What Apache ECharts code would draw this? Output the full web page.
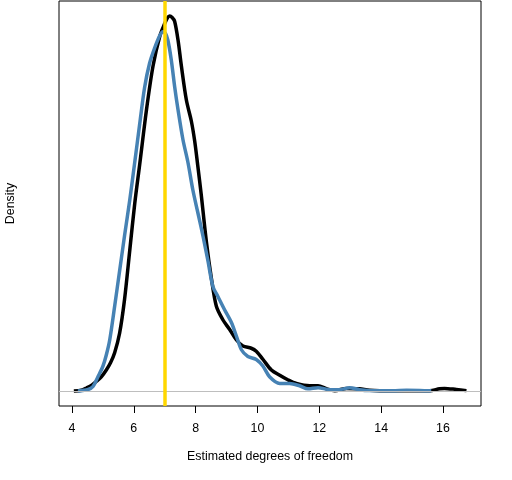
<!DOCTYPE html>
<html>
<head>
<meta charset="utf-8">
<script src="https://cdn.jsdelivr.net/npm/echarts@6/dist/echarts.min.js"></script>
<style>
  html, body { margin: 0; padding: 0; background: #fff; }
  #chart { width: 512px; height: 480px; }
</style>
</head>
<body>
<div id="chart"></div>
<script>
// density of estimated df, black curve
var blackX = [4.06, 4.30, 4.47, 4.65, 4.79, 4.95, 5.11, 5.25, 5.38, 5.54, 5.70, 5.87, 6.03, 6.19, 6.41, 6.62, 6.84, 7.00, 7.08, 7.16, 7.24, 7.32, 7.43, 7.54, 7.70, 7.86, 7.97, 8.07, 8.18, 8.35, 8.51, 8.67, 8.88, 9.10, 9.32, 9.53, 9.80, 9.96, 10.18, 10.45, 10.72, 10.98, 11.26, 11.69, 11.96, 12.23, 12.50, 12.88, 13.30, 13.63, 14.37, 14.90, 15.57, 15.89, 16.05, 16.43, 16.76];
var blackY = [0, 0.001, 0.004, 0.008, 0.013, 0.019, 0.028, 0.038, 0.051, 0.077, 0.122, 0.188, 0.250, 0.302, 0.375, 0.433, 0.473, 0.490, 0.497, 0.500, 0.498, 0.493, 0.468, 0.433, 0.388, 0.360, 0.333, 0.300, 0.262, 0.198, 0.150, 0.113, 0.095, 0.082, 0.068, 0.060, 0.057, 0.053, 0.042, 0.028, 0.021, 0.015, 0.010, 0.007, 0.007, 0.003, 0.0005, 0.0035, 0.003, 0.001, 0.0003, 0.0003, 0.0003, 0.003, 0.0035, 0.002, 0.0005];

// steelblue curve
var blueX = [4.19, 4.52, 4.68, 4.84, 5.00, 5.11, 5.22, 5.38, 5.54, 5.70, 5.87, 6.03, 6.19, 6.35, 6.51, 6.67, 6.84, 6.94, 7.02, 7.10, 7.21, 7.32, 7.43, 7.59, 7.75, 7.91, 8.07, 8.24, 8.40, 8.56, 8.72, 8.94, 9.16, 9.32, 9.48, 9.69, 9.96, 10.18, 10.39, 10.72, 11.04, 11.36, 11.63, 11.96, 12.33, 12.66, 12.98, 13.30, 13.63, 14.37, 14.82, 15.25, 15.62];
var blueY = [0, 0.002, 0.006, 0.019, 0.033, 0.048, 0.068, 0.113, 0.160, 0.207, 0.255, 0.305, 0.356, 0.405, 0.437, 0.457, 0.474, 0.479, 0.477, 0.468, 0.442, 0.406, 0.375, 0.335, 0.305, 0.268, 0.238, 0.206, 0.173, 0.139, 0.126, 0.108, 0.091, 0.073, 0.055, 0.046, 0.042, 0.033, 0.019, 0.010, 0.010, 0.007, 0.003, 0.0045, 0.0017, 0.0017, 0.0045, 0.0017, 0.0005, 0.0003, 0.001, 0.0008, 0.0003];

var xTicks = [4, 6, 8, 10, 12, 14, 16];
var trueDf = 7;

function pairs(xs, ys) {
    var out = [];
    for (var i = 0; i < xs.length; i++) {
        out.push([xs[i], ys[i]]);
    }
    return out;
}

var chart = echarts.init(document.getElementById('chart'));
var font = 'Liberation Sans, Arial, sans-serif';
var option = {
    animation: false,
    grid: {
        left: 59, right: 31, top: 1, bottom: 74,
        outerBoundsMode: 'none',
        containLabel: false,
        show: true,
        borderColor: '#000',
        borderWidth: 1,
        backgroundColor: 'transparent'
    },
    xAxis: {
        type: 'value',
        min: 3.58,
        max: 17.23,
        name: 'Estimated degrees of freedom',
        nameLocation: 'middle',
        nameGap: 45,
        nameTextStyle: { color: '#000', fontSize: 12.4, fontFamily: font },
        axisLine: { show: false, onZero: false },
        axisTick: { show: true, length: 7, customValues: xTicks, lineStyle: { color: '#000', width: 1 } },
        axisLabel: { customValues: xTicks, margin: 17, color: '#000', fontSize: 12.4, fontFamily: font },
        splitLine: { show: false }
    },
    yAxis: {
        type: 'value',
        min: -0.02,
        max: 0.52,
        name: 'Density',
        nameLocation: 'middle',
        nameGap: 42,
        nameTextStyle: { color: '#000', fontSize: 12.4, fontFamily: font },
        axisLine: { show: false, onZero: false },
        axisTick: { show: false },
        axisLabel: { show: false },
        splitLine: { show: false }
    },
    series: [{
        name: 'black',
        type: 'line',
        z: 2,
        data: pairs(blackX, blackY),
        showSymbol: false,
        smooth: 0.3,
        lineStyle: { color: '#000', width: 3.5 },
        markLine: {
            silent: true,
            symbol: 'none',
            label: { show: false },
            lineStyle: { color: '#BEBEBE', width: 1, type: 'solid' },
            data: [{ yAxis: 0 }]
        }
    }, {
        name: 'blue',
        type: 'line',
        z: 3,
        data: pairs(blueX, blueY),
        showSymbol: false,
        smooth: 0.3,
        lineStyle: { color: '#4682B4', width: 3.5 },
        markLine: {
            silent: true,
            symbol: 'none',
            label: { show: false },
            lineStyle: { color: '#FFD700', width: 3.5, type: 'solid' },
            data: [{ xAxis: trueDf }]
        }
    }]
};
chart.setOption(option);
</script>
</body>
</html>
